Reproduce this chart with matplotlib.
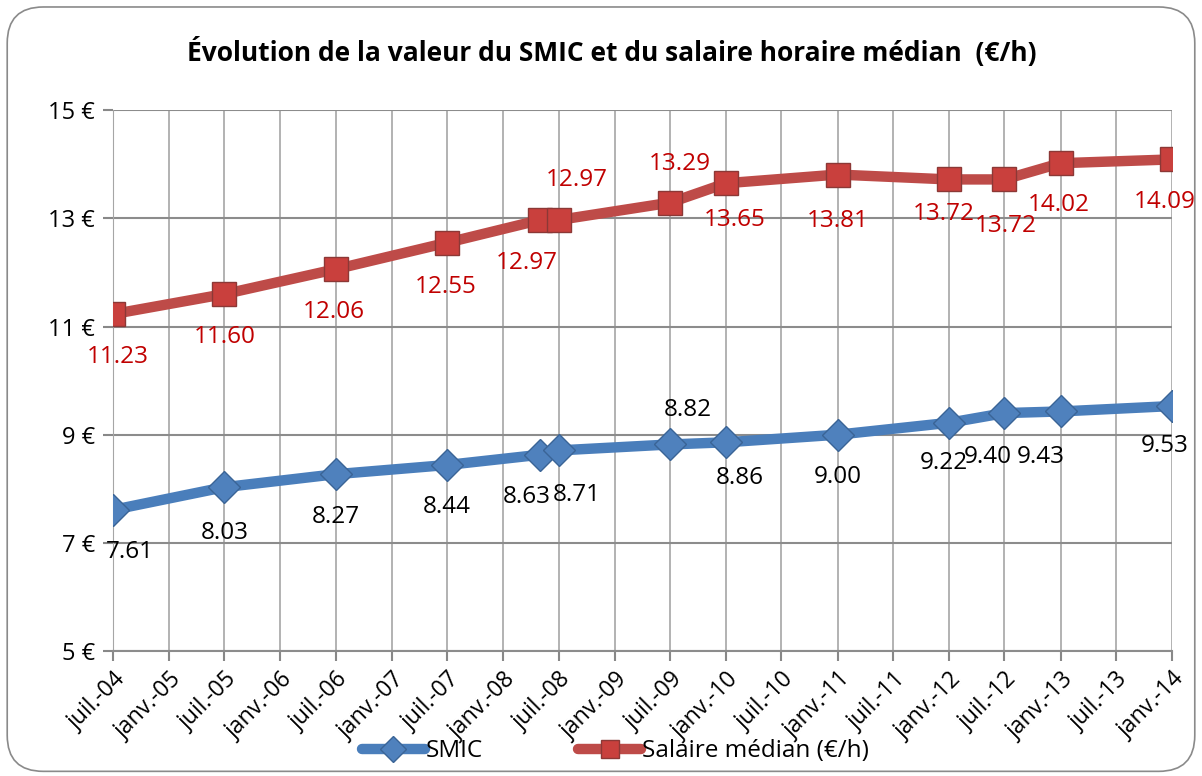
import matplotlib
matplotlib.use("Agg")
import matplotlib.pyplot as plt
import matplotlib.dates as mdates
from matplotlib.patches import FancyBboxPatch
from datetime import date

plt.rcParams["font.family"] = ["Open Sans", "DejaVu Sans"]

# data
dates = [date(2004, 7, 1), date(2005, 7, 1), date(2006, 7, 1), date(2007, 7, 1),
         date(2008, 5, 1), date(2008, 7, 1), date(2009, 7, 1), date(2010, 1, 1),
         date(2011, 1, 1), date(2012, 1, 1), date(2012, 7, 1), date(2013, 1, 1),
         date(2014, 1, 1)]
smic = [7.61, 8.03, 8.27, 8.44, 8.63, 8.71, 8.82, 8.86, 9.00, 9.22, 9.40, 9.43, 9.53]
median = [11.23, 11.60, 12.06, 12.55, 12.97, 12.97, 13.29, 13.65, 13.81, 13.72, 13.72, 14.02, 14.09]

tick_dates = [date(2004 + (i + 1) // 2, 7 if i % 2 == 0 else 1, 1) for i in range(20)]
tick_labels = ["juil.-04", "janv.-05", "juil.-05", "janv.-06", "juil.-06", "janv.-07",
               "juil.-07", "janv.-08", "juil.-08", "janv.-09", "juil.-09", "janv.-10",
               "juil.-10", "janv.-11", "juil.-11", "janv.-12", "juil.-12", "janv.-13",
               "juil.-13", "janv.-14"]
y_ticks = [5, 7, 9, 11, 13, 15]

# label offsets in pixels (dx, dy)
smic_off = [(17, -42), (0, -46), (0, -43), (0, -42), (-13, -42), (18, -45), (18, 34),
            (14, -36), (0, -42), (-5, -40), (-17, -44), (-20, -46), (-7, -40)]
med_off = [(5, -43), (0, -43), (-2, -43), (-1, -44), (-13, -43), (18, 40), (10, 39),
           (8, -37), (0, -46), (-5, -35), (1, -47), (-2, -42), (-7, -43)]

BLUE = "#4A7EBB"
RED = "#BE4B48"

fig = plt.figure(figsize=(12.02, 7.76), dpi=100)
border = FancyBboxPatch((0.006, 0.006), 0.988, 0.985, boxstyle="round,pad=0,rounding_size=0.03",
                        transform=fig.transFigure, fill=False, edgecolor="#8a8a8a", linewidth=1.2,
                        mutation_aspect=1.55)
fig.patches.append(border)

ax = fig.add_axes([0.094, 0.161, 0.881, 0.697])

x = mdates.date2num(dates)
ax.plot(x, smic, color=BLUE, lw=7.5, marker="D", ms=16, mfc="#4F81BD", mec="#3A6496",
        mew=1, solid_capstyle="round", label="SMIC", zorder=3)
ax.plot(x, median, color=RED, lw=7.5, marker="s", ms=17, mfc="#C9403D", mec="#8C3836",
        mew=1, solid_capstyle="round", label="Salaire médian (€/h)", zorder=3)

for xi, v, (dx, dy) in zip(x, smic, smic_off):
    ax.annotate(f"{v:.2f}", (xi, v), xytext=(dx, dy), textcoords="offset pixels",
                ha="center", va="center", fontsize=17.5, color="black", zorder=4)
for xi, v, (dx, dy) in zip(x, median, med_off):
    ax.annotate(f"{v:.2f}", (xi, v), xytext=(dx, dy), textcoords="offset pixels",
                ha="center", va="center", fontsize=17.5, color="#C00000", zorder=4)

tx = mdates.date2num(tick_dates)
ax.set_xlim(tx[0], tx[-1])
ax.set_ylim(5, 15)
ax.set_xticks(tx)
ax.set_xticklabels(tick_labels, rotation=45, ha="right", rotation_mode="anchor", fontsize=16.5)
ax.set_yticks(y_ticks)
ax.set_yticklabels([f"{v} €" for v in y_ticks], fontsize=17)
ax.tick_params(axis="both", direction="out", length=7, color="#888888", width=1.5)
ax.tick_params(axis="x", pad=5)
ax.tick_params(axis="y", pad=6)

ax.grid(axis="y", color="#8c8c8c", lw=1.5)
ax.grid(axis="x", color="#a6a6a6", lw=1.2)
ax.set_axisbelow(True)
for side in ["top", "right"]:
    ax.spines[side].set_visible(False)
ax.spines["left"].set_color("#a6a6a6")
ax.spines["bottom"].set_color("#8c8c8c")
ax.spines["bottom"].set_linewidth(1.5)

fig.text(0.509, 0.933, "Évolution de la valeur du SMIC et du salaire horaire médian  (€/h)",
         ha="center", va="center", fontsize=19, fontweight="bold")

fig.legend(loc="center", bbox_to_anchor=(0.512, 0.032), ncol=2, frameon=False, fontsize=17.5,
           handlelength=2.6, columnspacing=3.9, handletextpad=0.05, markerscale=0.8)

fig.savefig("out.png", dpi=100)
